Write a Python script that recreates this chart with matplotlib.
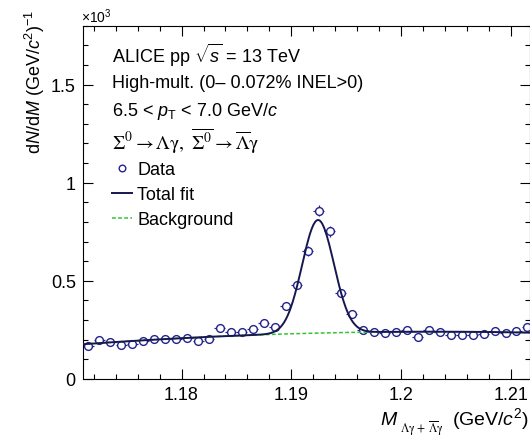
import numpy as np
import matplotlib
matplotlib.use("Agg")
import matplotlib.pyplot as plt
from matplotlib.ticker import MultipleLocator, FuncFormatter

# invariant mass bin centres (GeV/c^2) and counts per bin
mass = [1.1715, 1.1725, 1.1735, 1.1745, 1.1755, 1.1765, 1.1775, 1.1785, 1.1795, 1.1805,
        1.1815, 1.1825, 1.1835, 1.1845, 1.1855, 1.1865, 1.1875, 1.1885, 1.1895, 1.1905,
        1.1915, 1.1925, 1.1935, 1.1945, 1.1955, 1.1965, 1.1975, 1.1985, 1.1995, 1.2005,
        1.2015, 1.2025, 1.2035, 1.2045, 1.2055, 1.2065, 1.2075, 1.2085, 1.2095, 1.2105,
        1.2115]
counts = [167, 201, 187, 172, 177, 193, 202, 204, 202, 211,
          195, 205, 259, 241, 237, 255, 286, 267, 371, 478,
          651, 858, 752, 439, 330, 251, 241, 234, 240, 250,
          215, 249, 239, 226, 224, 223, 229, 245, 232, 244,
          265]
bin_half_width = 0.0005

# fit parameters (gaussian peak + pol2 background)
peak_amp = 576.0
peak_mean = 1.19243
peak_sigma = 0.00145
bg_top = 241.0
bg_curv = 62500.0
bg_vertex = 1.203

x_range = (1.171, 1.21173)

plt.rcParams['font.family'] = ['Liberation Sans', 'DejaVu Sans']
plt.rcParams['mathtext.fontset'] = 'custom'
plt.rcParams['mathtext.rm'] = 'Liberation Sans'
plt.rcParams['mathtext.it'] = 'Liberation Sans:italic'
plt.rcParams['mathtext.bf'] = 'Liberation Sans:bold'

navy = '#23238e'
fit_col = '#17174f'
bg_col = '#33c433'
fs = 13

W, H = 530, 439
fig = plt.figure(figsize=(W / 100, H / 100), dpi=100)
ax = fig.add_axes([82.7 / W, 1 - 380 / H, 1 - 82.7 / W, (380 - 26.7) / H])


def background(x):
    return bg_top - bg_curv * (x - bg_vertex) ** 2


def total(x):
    return background(x) + peak_amp * np.exp(-0.5 * ((x - peak_mean) / peak_sigma) ** 2)


m = np.array(mass)
c = np.array(counts, dtype=float)
eb = ax.errorbar(m, c, xerr=bin_half_width, yerr=np.sqrt(c), fmt='o', ms=5.6,
                 mfc='white', mec=navy, mew=1.0, ecolor=navy, elinewidth=0.9,
                 capsize=0, zorder=2)

xf = np.linspace(x_range[0], x_range[1], 600)
fit_line, = ax.plot(xf, total(xf), color=fit_col, lw=1.4, zorder=4)
bg_line, = ax.plot(xf, background(xf), color=bg_col, lw=1.1, ls=(0, (2.5, 1.5)), zorder=3)

ax.set_xlim(*x_range)
ax.set_ylim(0, 1800)
ax.xaxis.set_major_locator(MultipleLocator(0.01))
ax.xaxis.set_minor_locator(MultipleLocator(0.002))
ax.yaxis.set_major_locator(MultipleLocator(500))
ax.yaxis.set_minor_locator(MultipleLocator(100))
ax.xaxis.set_major_formatter(FuncFormatter(lambda v, p: f'{v:g}'))
ax.yaxis.set_major_formatter(FuncFormatter(lambda v, p: f'{v / 1000:g}'))
ax.tick_params(which='both', direction='in', top=True, right=True, labelsize=fs, width=0.8)
ax.tick_params(which='major', length=7.2, pad=5)
ax.tick_params(which='minor', length=3.6)
for s in ax.spines.values():
    s.set_linewidth(0.8)


def fy(y):
    return 1 - y / H


# annotation block
tx = 112 / W
fig.text(tx, fy(55), r'ALICE pp $\sqrt{s}$ = 13 TeV', fontsize=fs, va='center')
fig.text(tx, fy(83.5), 'High-mult. (0\u2013 0.072% INEL>0)', fontsize=fs, va='center')
fig.text(tx, fy(112), r'6.5 < $p_{\rm T}$ < 7.0 GeV/$c$', fontsize=fs, va='center')
fig.text(tx, fy(141), r'$\Sigma^0 \rightarrow \Lambda\mathrm{\gamma},\ \overline{\Sigma^0} \rightarrow \overline{\Lambda}\mathrm{\gamma}$',
         fontsize=fs + 1, va='center', math_fontfamily='stix')

ax.legend(handles=[eb[0], fit_line, bg_line], labels=['Data', 'Total fit', 'Background'],
          loc='upper left', bbox_to_anchor=(112 / W, fy(162)), bbox_transform=fig.transFigure,
          frameon=False, fontsize=fs, borderpad=0, borderaxespad=0, handlelength=1.1,
          handletextpad=0.3, labelspacing=0.45, markerscale=0.85)

# axis titles
fig.text(81 / W, fy(17), r'$\times$10$^{3}$', fontsize=10, va='center')
fig.text(35 / W, fy(10), r'd$N$/d$M$ (GeV/$c^{2}$)$^{-1}$', fontsize=fs, rotation=90,
         ha='center', va='top')
fig.text(380 / W, fy(425), r'$M$', fontsize=fs + 1, va='baseline')
fig.text(400 / W, fy(429), r'$\Lambda\mathrm{\gamma}\,+\,\overline{\Lambda}\mathrm{\gamma}$', fontsize=8.5,
         va='center', math_fontfamily='stix')
fig.text(452 / W, fy(425), r'(GeV/$c^{2}$)', fontsize=fs + 1, va='baseline')

fig.savefig('out.png', dpi=100)
